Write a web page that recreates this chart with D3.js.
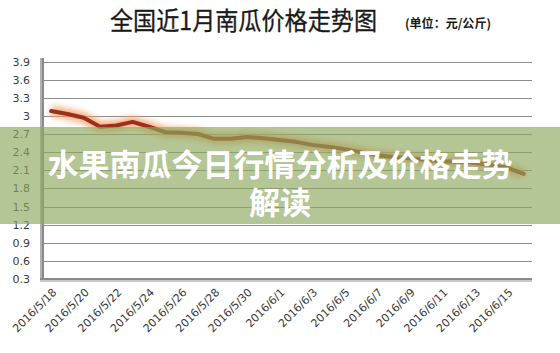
<!DOCTYPE html>
<html>
<head>
<meta charset="utf-8">
<script src="https://cdn.jsdelivr.net/npm/d3@7"></script>
<style>
  body { margin: 0; background: #fff; }
  svg { display: block; }
</style>
</head>
<body>
<div id="chart"></div>
<script>
var dates = ["2016/5/18", "2016/5/19", "2016/5/20", "2016/5/21", "2016/5/22", "2016/5/23",
  "2016/5/24", "2016/5/25", "2016/5/26", "2016/5/27", "2016/5/28", "2016/5/29",
  "2016/5/30", "2016/5/31", "2016/6/1", "2016/6/2", "2016/6/3", "2016/6/4",
  "2016/6/5", "2016/6/6", "2016/6/7", "2016/6/8", "2016/6/9", "2016/6/10",
  "2016/6/11", "2016/6/12", "2016/6/13", "2016/6/14", "2016/6/15", "2016/6/16"];

var prices = [3.08, 3.03, 2.97, 2.82, 2.84, 2.90, 2.82, 2.73, 2.72, 2.70,
  2.62, 2.62, 2.65, 2.63, 2.60, 2.57, 2.52, 2.49, 2.45, 2.40,
  2.35, 2.32, 2.30, 2.27, 2.25, 2.24, 2.22, 2.19, 2.14, 2.04];

var yTicks = [0.3, 0.6, 0.9, 1.2, 1.5, 1.8, 2.1, 2.4, 2.7, 3, 3.3, 3.6, 3.9];

var title = "全国近1月南瓜价格走势图";
var unit = "(单位：元/公斤)";
var overlayLines = ["水果南瓜今日行情分析及价格走势", "解读"];

var width = 560;
var height = 353;

var svg = d3.select("#chart")
  .append("svg")
  .attr("width", width)
  .attr("height", height);

var defs = svg.append("defs");
var glow = defs.append("filter")
  .attr("id", "glow")
  .attr("x", "-10%").attr("y", "-50%")
  .attr("width", "120%").attr("height", "200%");
glow.append("feGaussianBlur")
  .attr("in", "SourceGraphic")
  .attr("stdDeviation", 3);

var x_scale = d3.scaleBand()
  .domain(dates)
  .range([43, 532]);

var y_scale = d3.scaleLinear()
  .domain([0.3, 3.9])
  .range([279, 61.5]);

// title
svg.append("text")
  .attr("x", 110)
  .attr("y", 30)
  .attr("font-family", "Noto Sans CJK SC")
  .attr("font-size", 25)
  .attr("fill", "#1a1a1a")
  .attr("stroke", "#1a1a1a")
  .attr("stroke-width", 0.3)
  .attr("textLength", 267)
  .attr("lengthAdjust", "spacingAndGlyphs")
  .text(title);

svg.append("text")
  .attr("x", 405)
  .attr("y", 28)
  .attr("font-family", "Noto Sans CJK SC")
  .attr("font-weight", "bold")
  .attr("font-size", 12.5)
  .attr("fill", "#1a1a1a")
  .attr("textLength", 86)
  .attr("lengthAdjust", "spacingAndGlyphs")
  .text(unit);

// gridlines
svg.append("g")
  .selectAll("line")
  .data(yTicks.slice(1))
  .enter()
  .append("line")
  .attr("x1", 44)
  .attr("x2", 532)
  .attr("y1", function(d) { return Math.round(y_scale(d)) + 0.5; })
  .attr("y2", function(d) { return Math.round(y_scale(d)) + 0.5; })
  .attr("stroke", "#8c8c8c")
  .attr("stroke-width", 1);

// y axis
var y_axis = d3.axisLeft(y_scale)
  .tickValues(yTicks)
  .tickSize(0)
  .tickPadding(13)
  .tickFormat(function(d) { return String(d); });

var yg = svg.append("g")
  .attr("transform", "translate(43,0)")
  .call(y_axis);
yg.select(".domain").remove();
yg.selectAll("text")
  .attr("font-family", "DejaVu Sans")
  .attr("font-size", 11)
  .attr("fill", "#3a3a3a");

// axis frame with shadow
svg.append("rect")
  .attr("x", 40).attr("y", 58)
  .attr("width", 4).attr("height", 222)
  .attr("fill", "#b0b0b0");
svg.append("rect")
  .attr("x", 42).attr("y", 58)
  .attr("width", 2).attr("height", 222)
  .attr("fill", "#8a8a8a");
svg.append("rect")
  .attr("x", 40).attr("y", 278)
  .attr("width", 492).attr("height", 2)
  .attr("fill", "#8a8a8a");
svg.append("rect")
  .attr("x", 40).attr("y", 280)
  .attr("width", 492).attr("height", 2)
  .attr("fill", "#c8c8c8");

// x axis labels
var x_axis = d3.axisBottom(x_scale)
  .tickValues(dates.filter(function(d, i) { return i % 2 === 0; }))
  .tickSize(0)
  .tickPadding(0);

var xg = svg.append("g")
  .attr("transform", "translate(0,283)")
  .call(x_axis);
xg.select(".domain").remove();
xg.selectAll("text")
  .attr("font-family", "DejaVu Sans")
  .attr("font-size", 11)
  .attr("fill", "#3a3a3a")
  .attr("text-anchor", "end")
  .attr("dy", 0)
  .attr("transform", "translate(6,10) rotate(-45)");

// price line
var line = d3.line()
  .x(function(d, i) { return x_scale(dates[i]) + x_scale.bandwidth() / 2; })
  .y(function(d) { return y_scale(d); });

svg.append("path")
  .datum(prices)
  .attr("d", line)
  .attr("fill", "none")
  .attr("stroke", "#f2a066")
  .attr("stroke-width", 10)
  .attr("stroke-linejoin", "round")
  .attr("opacity", 0.9)
  .attr("filter", "url(#glow)");

svg.append("path")
  .datum(prices)
  .attr("d", line)
  .attr("fill", "none")
  .attr("stroke", "#9c2f1d")
  .attr("stroke-width", 4)
  .attr("stroke-linejoin", "round")
  .attr("stroke-linecap", "round");

// overlay band
svg.append("rect")
  .attr("x", 0).attr("y", 127)
  .attr("width", width).attr("height", 97)
  .attr("fill", "#8fa85f")
  .attr("opacity", 0.66);

svg.append("g")
  .selectAll("text")
  .data(overlayLines)
  .enter()
  .append("text")
  .attr("x", 280)
  .attr("y", function(d, i) { return 176 + i * 38; })
  .attr("text-anchor", "middle")
  .attr("font-family", "Noto Sans CJK SC")
  .attr("font-weight", "bold")
  .attr("font-size", 31)
  .attr("fill", "#fff")
  .text(function(d) { return d; });
</script>
</body>
</html>
